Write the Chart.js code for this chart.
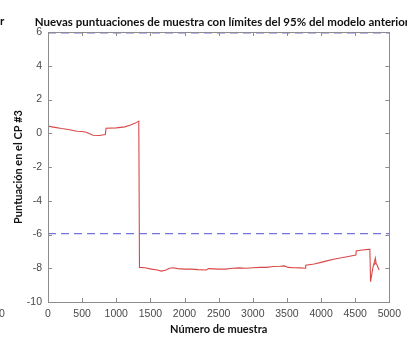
<!DOCTYPE html>
<html>
<head>
<meta charset="utf-8">
<script src="https://cdn.jsdelivr.net/npm/chart.js@4/dist/chart.umd.min.js"></script>
<style>
  html, body { margin: 0; padding: 0; background: #fff; }
  #wrap { width: 407px; height: 339px; position: relative; }
</style>
</head>
<body>
<div id="wrap"><canvas id="c" width="407" height="339"></canvas></div>
<script>
// Sample index (x) and score on PC #3 (y) for the new samples
const sampleIndex = [
  0, 100, 200, 300, 420, 500, 560, 660, 750, 840, 850, 1000, 1125, 1200, 1280, 1330,
  1340, 1420, 1515, 1600, 1660, 1720, 1780, 1830, 1900, 2000, 2100, 2200, 2320, 2350,
  2500, 2600, 2700, 2800, 2900, 3000, 3100, 3200, 3300, 3400, 3460, 3520, 3600, 3700,
  3770, 3775, 3900, 4000, 4100, 4200, 4300, 4400, 4510, 4515, 4600, 4700, 4715, 4725,
  4760, 4780, 4795, 4805, 4790, 4805, 4825, 4850
];
const pcScore = [
  0.42, 0.35, 0.28, 0.22, 0.12, 0.10, 0.06, -0.12, -0.13, -0.08, 0.30, 0.32, 0.38, 0.48, 0.60, 0.72,
  -7.95, -7.97, -8.05, -8.10, -8.17, -8.12, -8.00, -7.97, -8.02, -8.05, -8.05, -8.08, -8.10, -8.02,
  -8.05, -8.05, -8.00, -7.98, -8.00, -7.97, -7.95, -7.95, -7.90, -7.88, -7.86, -7.95, -7.97, -7.98,
  -8.00, -7.82, -7.75, -7.65, -7.55, -7.45, -7.38, -7.30, -7.22, -6.98, -6.92, -6.88, -6.88, -8.80,
  -7.95, -7.65, -7.40, -7.65, -7.75, -7.70, -7.85, -8.10
];
// 95% limits of the previous model
const upperLimit = 5.95;
const lowerLimit = -5.95;
const xRange = [0, 5000];
const yRange = [-10, 6];
const xTickStep = 500;
const yTickStep = 2;

const scoreData = sampleIndex.map((x, i) => ({ x: x, y: pcScore[i] }));
const upperData = xRange.map(x => ({ x: x, y: upperLimit }));
const lowerData = xRange.map(x => ({ x: x, y: lowerLimit }));

const AXIS_COLOR = '#8c8c8c';
const LABEL_COLOR = '#4a4a4a';
const TICK_FONT = '10.5px "Liberation Sans", Arial, sans-serif';
const TITLE_FONT = 'bold 11.5px Lato, sans-serif';
const AXIS_TITLE_FONT = 'bold 11px Lato, sans-serif';

// Box around the plot with inward-pointing tick marks on every side,
// plus the chart title, axis titles and the margin labels.
const boxPlugin = {
  id: 'boxPlugin',
  afterDraw(chart) {
    const ctx = chart.ctx;
    const a = chart.chartArea;
    const xs = chart.scales.x, ys = chart.scales.y;
    ctx.save();
    ctx.strokeStyle = AXIS_COLOR;
    ctx.lineWidth = 1;
    ctx.strokeRect(Math.round(a.left) + 0.5, Math.round(a.top) + 0.5,
                   Math.round(a.right - a.left), Math.round(a.bottom - a.top));
    const len = 4;
    ctx.beginPath();
    xs.ticks.forEach(t => {
      const px = Math.round(xs.getPixelForValue(t.value)) + 0.5;
      ctx.moveTo(px, a.bottom); ctx.lineTo(px, a.bottom - len);
      ctx.moveTo(px, a.top); ctx.lineTo(px, a.top + len);
    });
    ys.ticks.forEach(t => {
      const py = Math.round(ys.getPixelForValue(t.value)) + 0.5;
      ctx.moveTo(a.left, py); ctx.lineTo(a.left + len, py);
      ctx.moveTo(a.right, py); ctx.lineTo(a.right - len, py);
    });
    ctx.stroke();

    ctx.fillStyle = '#111';
    ctx.font = TITLE_FONT;
    ctx.textAlign = 'center';
    ctx.textBaseline = 'middle';
    ctx.fillText('Nuevas puntuaciones de muestra con límites del 95% del modelo anterior', 222, 22);
    ctx.font = AXIS_TITLE_FONT;
    ctx.fillText('Número de muestra', (a.left + a.right) / 2, 329);
    ctx.save();
    ctx.translate(18, (a.top + a.bottom) / 2);
    ctx.rotate(-Math.PI / 2);
    ctx.fillText('Puntuación en el CP #3', 0, 0);
    ctx.restore();

    // labels of the neighbouring panel at the left margin
    ctx.textAlign = 'left';
    ctx.font = TITLE_FONT;
    ctx.fillText('r', 0, 21);
    ctx.fillStyle = LABEL_COLOR;
    ctx.font = TICK_FONT;
    ctx.fillText('0', -1, 314);
    ctx.restore();
  }
};

new Chart(document.getElementById('c'), {
  type: 'line',
  data: {
    datasets: [
      {
        data: scoreData,
        borderColor: '#d94848',
        borderWidth: 1.1,
        pointRadius: 0,
        tension: 0,
        fill: false
      },
      {
        data: upperData,
        borderColor: '#7474dc',
        borderWidth: 1.2,
        borderDash: [8, 5],
        pointRadius: 0,
        fill: false
      },
      {
        data: lowerData,
        borderColor: '#7474dc',
        borderWidth: 1.2,
        borderDash: [8, 5],
        pointRadius: 0,
        fill: false
      }
    ]
  },
  options: {
    responsive: false,
    animation: false,
    events: [],
    layout: { padding: { left: 0, right: 17, top: 32, bottom: 0 } },
    plugins: {
      legend: { display: false },
      tooltip: { enabled: false },
      title: { display: false }
    },
    scales: {
      x: {
        type: 'linear',
        min: xRange[0],
        max: xRange[1],
        ticks: {
          stepSize: xTickStep,
          color: LABEL_COLOR,
          font: { family: '"Liberation Sans", Arial, sans-serif', size: 10.5 },
          maxRotation: 0,
          padding: 6,
          callback: v => String(v)
        },
        grid: { display: false, drawTicks: false },
        border: { display: false },
        afterFit(s) { s.height = 37; }
      },
      y: {
        type: 'linear',
        min: yRange[0],
        max: yRange[1],
        ticks: {
          stepSize: yTickStep,
          color: LABEL_COLOR,
          font: { family: '"Liberation Sans", Arial, sans-serif', size: 10.5 },
          padding: 6,
          callback: v => String(v)
        },
        grid: { display: false, drawTicks: false },
        border: { display: false },
        afterFit(s) { s.width = 48; }
      }
    }
  },
  plugins: [boxPlugin]
});
</script>
</body>
</html>
